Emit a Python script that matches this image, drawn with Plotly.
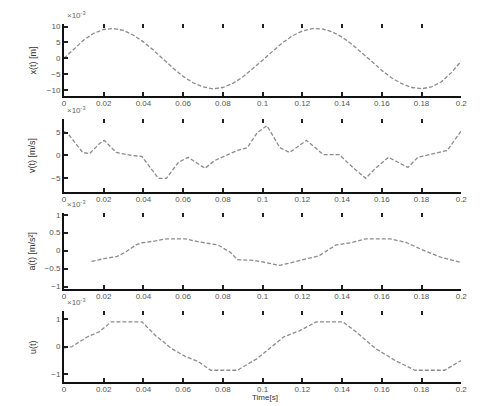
import plotly.graph_objects as go

# ---------------- data ----------------
t1 = [round(i * 0.005, 3) for i in range(41)]
x1 = [0.0, 3.0, 5.8, 7.9, 9.1, 9.4, 8.8, 7.3, 5.2, 2.6, -0.3, -3.1, -5.7, -7.7,
      -9.0, -9.6, -9.2, -7.9, -5.9, -3.4, -0.6, 2.2, 4.9, 7.1, 8.6, 9.4, 9.3,
      8.4, 6.7, 4.4, 1.8, -1.0, -3.8, -6.2, -8.0, -9.2, -9.6, -9.0, -7.4, -4.5, -0.9]

t2 = [0.0, 0.002, 0.0094, 0.0129, 0.0179, 0.0203, 0.0263, 0.0342, 0.0392, 0.0476,
      0.0516, 0.0576, 0.0625, 0.071, 0.0759, 0.0839, 0.0873, 0.0923, 0.0973, 0.1022,
      0.1087, 0.1136, 0.1221, 0.127, 0.1305, 0.1385, 0.1454, 0.1519, 0.1568, 0.1633,
      0.1732, 0.1782, 0.1866, 0.193, 0.2]
v2 = [5.2, 4.8, 0.65, 0.4, 2.6, 3.3, 0.65, 0.0, -0.2, -5.0,
      -5.0, -1.5, -0.4, -2.8, -1.1, 0.4, 1.1, 1.7, 5.0, 6.5,
      1.7, 0.65, 3.3, 1.5, 0.2, 0.2, -2.6, -5.0, -2.8, -0.4,
      -2.6, -0.4, 0.4, 1.1, 5.4]

t3 = [0.0139, 0.0203, 0.0268, 0.0313, 0.0362, 0.0392, 0.0461, 0.0516, 0.061, 0.0675,
      0.0774, 0.0839, 0.0873, 0.0958, 0.1087, 0.1186, 0.1285, 0.137, 0.1444, 0.1519,
      0.1643, 0.1727, 0.1801, 0.1901, 0.2]
a3 = [-0.30, -0.22, -0.16, -0.03, 0.16, 0.22, 0.27, 0.33, 0.33, 0.25,
      0.16, -0.05, -0.25, -0.27, -0.41, -0.27, -0.14, 0.16, 0.22, 0.33,
      0.33, 0.22, 0.03, -0.19, -0.33]

t4 = [0.0, 0.004, 0.0119, 0.0179, 0.0238, 0.0392, 0.0462, 0.0541, 0.061, 0.0675,
      0.0739, 0.0873, 0.0973, 0.1037, 0.1107, 0.1186, 0.127, 0.1404, 0.1469, 0.1568,
      0.1667, 0.1767, 0.1916, 0.2]
u4 = [-0.05, 0.0, 0.36, 0.55, 0.91, 0.91, 0.40, -0.07, -0.36, -0.55,
      -0.87, -0.87, -0.44, -0.07, 0.36, 0.58, 0.91, 0.91, 0.55, -0.07,
      -0.51, -0.87, -0.87, -0.51]

x_ticks = [0, 0.02, 0.04, 0.06, 0.08, 0.1, 0.12, 0.14, 0.16, 0.18, 0.2]
x_ticktext = ["0", "0.02", "0.04", "0.06", "0.08", "0.1", "0.12", "0.14", "0.16", "0.18", "0.2"]
y_titles = ["x(t) [m]", "v(t) [m/s]", "a(t) [m/s²]", "u(t)"]
y_ticks = [[-10, -5, 0, 5, 10], [-5, 0, 5], [-1, -0.5, 0, 0.5, 1], [-1, 0, 1]]
y_ranges = [[-11.9, 10.9], [-8.0, 8.0], [-1.07, 1.05], [-1.31, 1.31]]
x_title = "Time[s]"
exp_label = "×10<sup>-3</sup>"

series = [(t1, x1), (t2, v2), (t3, a3), (t4, u4)]

# ---------------- layout geometry ----------------
W, H = 482, 406
x_dom = [63 / W, 467 / W]
rows_px = [(22, 95), (118, 192), (213, 290), (312, 384)]
y_doms = [[1 - b / H, 1 - a / H] for a, b in rows_px]

FONT = "Liberation Sans, Arial, sans-serif"
line_color = "#8c8c8c"

fig = go.Figure()
layout = dict(
    width=W, height=H,
    margin=dict(l=0, r=0, t=0, b=0),
    paper_bgcolor="white", plot_bgcolor="white",
    showlegend=False,
    font=dict(family=FONT, size=9, color="#444"),
)

annotations = []
for i, (tx, ty) in enumerate(series):
    n = i + 1
    xa = "x" if n == 1 else f"x{n}"
    ya = "y" if n == 1 else f"y{n}"
    fig.add_trace(go.Scatter(x=tx, y=ty, mode="lines", xaxis=xa, yaxis=ya,
                             line=dict(color=line_color, width=1.3, dash="4px,2px"),
                             hoverinfo="skip"))
    # overlay axis for the top tick marks
    m = n + 4
    fig.add_trace(go.Scatter(x=[0, 0.2], y=[None, None], mode="lines",
                             xaxis=f"x{m}", yaxis=ya, hoverinfo="skip",
                             showlegend=False))
    key_x = "xaxis" if n == 1 else f"xaxis{n}"
    key_y = "yaxis" if n == 1 else f"yaxis{n}"
    layout[key_x] = dict(
        domain=x_dom, anchor=ya, range=[0, 0.2],
        tickmode="array", tickvals=x_ticks, ticktext=x_ticktext,
        ticks="inside", ticklen=4, tickwidth=2, tickcolor="#222",
        showline=True, linecolor="#111", linewidth=2,
        showgrid=False, zeroline=False,
        tickfont=dict(size=8, color="#555"),
        ticklabelstandoff=-2,
    )
    layout[f"xaxis{m}"] = dict(
        overlaying=xa, anchor=ya, side="top", range=[0, 0.2],
        tickmode="array", tickvals=x_ticks,
        ticks="inside", ticklen=4, tickwidth=2, tickcolor="#222",
        showline=False, showticklabels=False, showgrid=False, zeroline=False,
    )
    layout[key_y] = dict(
        domain=y_doms[i], anchor=xa, range=y_ranges[i],
        tickmode="array", tickvals=y_ticks[i],
        ticks="inside", ticklen=4, tickwidth=2, tickcolor="#222",
        showline=True, linecolor="#111", linewidth=2,
        showgrid=False, zeroline=False,
        tickfont=dict(size=8, color="#555"),
    )
    top_px, bot_px = rows_px[i]
    annotations.append(dict(
        text=exp_label, xref="paper", yref="paper",
        x=64 / W, y=1 - (top_px - 2) / H, xanchor="left", yanchor="bottom",
        showarrow=False, font=dict(size=8, color="#666"),
    ))
    annotations.append(dict(
        text=y_titles[i], xref="paper", yref="paper", textangle=-90,
        x=31 / W, y=1 - ((top_px + bot_px) / 2) / H,
        xanchor="center", yanchor="middle",
        showarrow=False, font=dict(size=9, color="#333"),
    ))

annotations.append(dict(
    text=x_title, xref="paper", yref="paper",
    x=267 / W, y=0, xanchor="center", yanchor="bottom",
    showarrow=False, font=dict(size=8, color="#333"),
))
layout["annotations"] = annotations

fig.update_layout(**layout)
fig.write_html("out.html", config={"displayModeBar": False},
               post_script="document.body.style.margin='0px';")
